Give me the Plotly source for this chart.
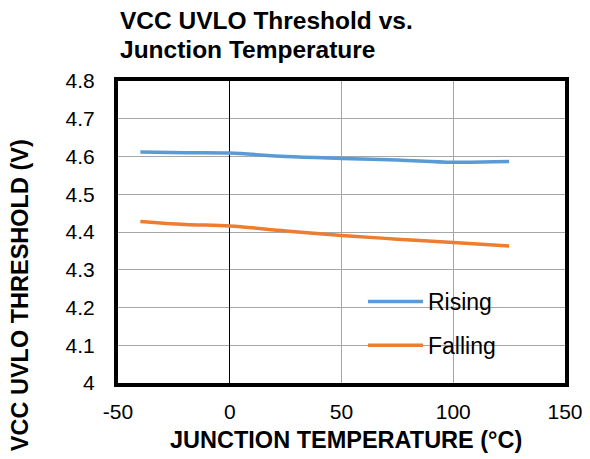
import plotly.graph_objects as go

# Junction temperature (°C)
temp = [-40, -20, 0, 25, 50, 75, 100, 125]

# UVLO thresholds (V)
rising = [4.612, 4.610, 4.609, 4.600, 4.595, 4.591, 4.585, 4.587]
falling = [4.428, 4.420, 4.416, 4.403, 4.391, 4.381, 4.372, 4.363]

x_ticks = [-50, 0, 50, 100, 150]
x_labels = ['-50', '0', '50', '100', '150']
y_ticks = [4.0, 4.1, 4.2, 4.3, 4.4, 4.5, 4.6, 4.7, 4.8]
y_labels = ['4', '4.1', '4.2', '4.3', '4.4', '4.5', '4.6', '4.7', '4.8']

FONT = 'Liberation Sans, Arial, sans-serif'

fig = go.Figure()

fig.add_trace(go.Scatter(
    x=temp, y=rising, mode='lines', name='Rising', legendgroup='r',
    line=dict(color='#5b9bd5', width=3.5, shape='spline'),
))
fig.add_trace(go.Scatter(
    x=temp, y=falling, mode='lines', name='Falling', legendgroup='f',
    line=dict(color='#ed7d31', width=3.5, shape='spline'),
))

# white legend patch over the gridlines, like the Excel legend box
fig.add_shape(type='rect', xref='paper', yref='paper',
              x0=0.47, x1=0.928, y0=0.05, y1=0.341,
              fillcolor='white', line=dict(width=0), layer='between')

# title, two lines
fig.add_annotation(text='<b>VCC UVLO Threshold vs.</b>', xref='paper', yref='paper',
                   x=0, y=1.199, xanchor='left', yanchor='middle', showarrow=False,
                   font=dict(size=24.5))
fig.add_annotation(text='<b>Junction Temperature</b>', xref='paper', yref='paper',
                   x=0, y=1.103, xanchor='left', yanchor='middle', showarrow=False,
                   font=dict(size=24.5))

# axis titles
fig.add_annotation(text='<b>JUNCTION TEMPERATURE (°C)</b>', xref='paper', yref='paper',
                   x=0.51, y=-0.189, xanchor='center', yanchor='middle', showarrow=False,
                   font=dict(size=23.5))
fig.add_annotation(text='<b>VCC UVLO THRESHOLD (V)</b>', xref='paper', yref='paper',
                   x=-0.219, y=0.291, xanchor='center', yanchor='middle', showarrow=False,
                   textangle=-90, font=dict(size=23.5))

# the page body has an 8px margin, so the margins are shifted to compensate
fig.update_layout(
    width=590, height=459,
    margin=dict(l=110, r=33, t=73, b=84),
    plot_bgcolor='white',
    paper_bgcolor='white',
    font=dict(family=FONT, color='black', size=21),
    legend=dict(
        x=0.548, y=0.341, xanchor='left', yanchor='top',
        bgcolor='rgba(0,0,0,0)', font=dict(size=23),
        itemwidth=55, tracegroupgap=11,
    ),
)

fig.update_xaxes(
    range=[-50, 150], tickvals=x_ticks, ticktext=x_labels,
    showgrid=True, gridcolor='#a6a6a6', gridwidth=1,
    zeroline=True, zerolinecolor='black', zerolinewidth=1,
    showline=True, linecolor='black', linewidth=4, mirror=True,
    ticks='', ticklabelstandoff=7, automargin=False,
)
fig.update_yaxes(
    range=[4.0, 4.8], tickvals=y_ticks, ticktext=y_labels,
    showgrid=True, gridcolor='#a6a6a6', gridwidth=1,
    zeroline=False,
    showline=True, linecolor='black', linewidth=4, mirror=True,
    ticks='', ticklabelstandoff=15, automargin=False,
)

fig.write_html("out.html")
